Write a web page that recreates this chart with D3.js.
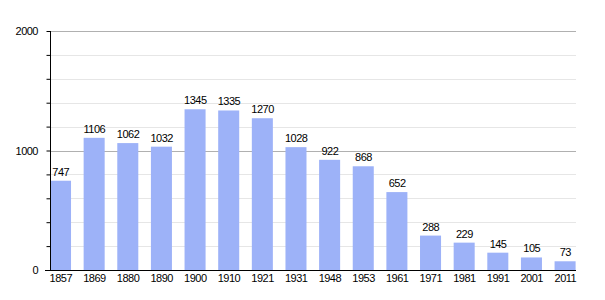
<!DOCTYPE html>
<html><head><meta charset="utf-8">
<script src="https://cdn.jsdelivr.net/npm/d3@7"></script>
<style>body{margin:0;background:#fff}svg{display:block}text{font-family:"Liberation Sans",Arial,sans-serif}</style>
</head><body>
<svg id="c" width="605" height="300"></svg>
<script>
const years = ["1857","1869","1880","1890","1900","1910","1921","1931","1948","1953","1961","1971","1981","1991","2001","2011"];
const population = [747,1106,1062,1032,1345,1335,1270,1028,922,868,652,288,229,145,105,73];
const yTicksMajor = [0,1000,2000];
const yTicksMinor = [200,400,600,800,1200,1400,1600,1800];

const svg = d3.select("#c");
const x = d3.scaleBand().domain(years).range([50,575.6]).paddingInner(0.375).paddingOuter(0);
const y = d3.scaleLinear().domain([0,2000]).range([270,31]);
const FS = 11, LS = "-0.5px";

// minor gridlines
svg.append("g").selectAll("line").data(yTicksMinor).join("line")
  .attr("x1",50).attr("x2",576).attr("y1",d=>Math.round(y(d))+0.5).attr("y2",d=>Math.round(y(d))+0.5)
  .attr("stroke","#e6e6e6").attr("stroke-width",1);
// major gridlines
svg.append("g").selectAll("line").data(yTicksMajor.filter(d=>d>0)).join("line")
  .attr("x1",50).attr("x2",576).attr("y1",d=>Math.round(y(d))+0.5).attr("y2",d=>Math.round(y(d))+0.5)
  .attr("stroke","#b0b0b0").attr("stroke-width",1);

// bars
svg.append("g").selectAll("rect").data(population).join("rect")
  .attr("x",(d,i)=>x(years[i])).attr("width",x.bandwidth())
  .attr("y",d=>y(d)).attr("height",d=>y(0)-y(d))
  .attr("fill","#9db2f8");

// value labels
svg.append("g").selectAll("text").data(population).join("text")
  .attr("x",(d,i)=>x(years[i])+x.bandwidth()/2+0.25).attr("y",d=>y(d)-5)
  .attr("text-anchor","middle").attr("font-size",FS).attr("letter-spacing",LS).attr("fill","#000")
  .text(d=>d);

// y axis
const yAxis = d3.axisLeft(y).tickValues(yTicksMajor.concat(yTicksMinor)).tickSize(4)
  .tickFormat(d=>yTicksMajor.includes(d)?d:"");
const gy = svg.append("g").attr("transform","translate(50.5,0)").call(yAxis);
gy.select(".domain").attr("d","M0,31V270").attr("stroke","#000");
gy.selectAll(".tick line").attr("stroke","#000");
gy.selectAll(".tick text").attr("x",-12.5).attr("font-size",FS).attr("letter-spacing",LS)
  .attr("font-family","Liberation Sans, Arial, sans-serif").attr("fill","#000");

// x axis
const xAxis = d3.axisBottom(x).tickSize(0).tickPadding(4);
const gx = svg.append("g").attr("transform","translate(0,270.5)").call(xAxis);
gx.select(".domain").attr("d","M45,0H576").attr("stroke","#000");
gx.selectAll(".tick text").attr("font-size",FS).attr("letter-spacing",LS).attr("dx","0.25")
  .attr("font-family","Liberation Sans, Arial, sans-serif").attr("fill","#000");
</script>
</body></html>
